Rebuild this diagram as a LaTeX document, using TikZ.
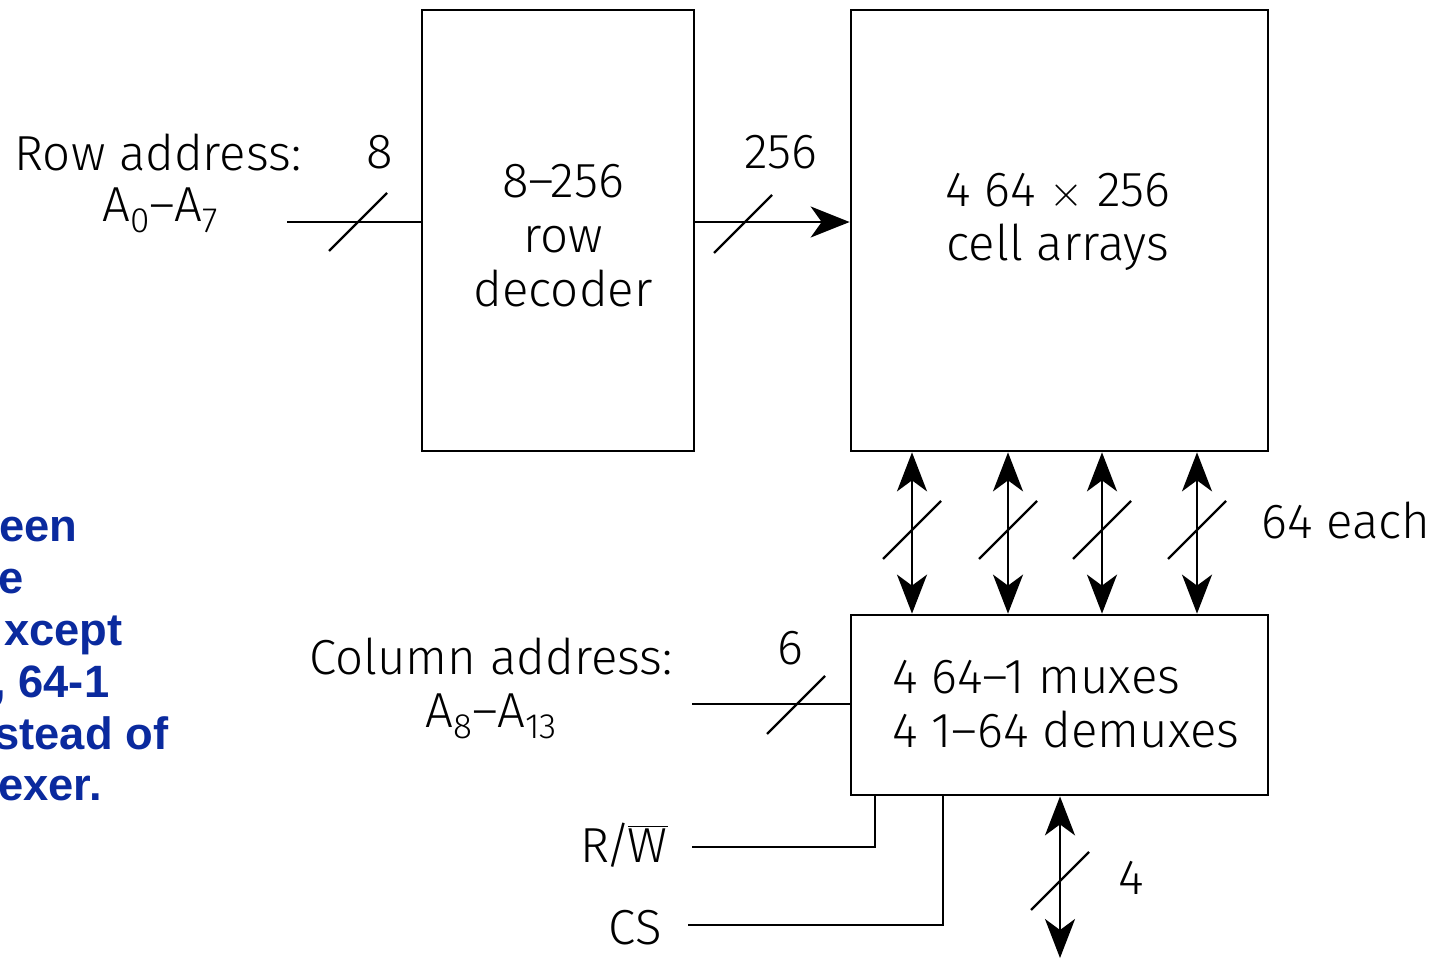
\documentclass[tikz,border=0pt]{standalone}
\usepackage{fontspec}
\setmainfont{Fira Sans}[UprightFont={* Light}]
\newfontfamily\notefont{Liberation Sans}[UprightFont={* Bold}]
\usetikzlibrary{arrows.meta,calc}
\definecolor{noteblue}{HTML}{0A2A9E}
\newcommand\busslash[1]{\draw[slashline] ($(#1)+(-29,29)$) -- ($(#1)+(29,-29)$);}
\newcommand\sbs[1]{\raisebox{-0.42ex}{\fontsize{20pt}{20pt}\selectfont #1}}
\newcommand\noteind[1]{\hspace*{#1}}
\begin{document}
\begin{tikzpicture}[x=0.02cm,y=-0.02cm,
  box/.style={draw, line width=1.6pt, inner sep=0pt},
  wire/.style={line width=1.4pt},
  slashline/.style={line width=1.3pt},
  tip/.style={-{Stealth[length=0.78cm,width=0.62cm,inset=0.22cm]}},
  dtip/.style={{Stealth[length=0.78cm,width=0.6cm,inset=0.22cm]}-{Stealth[length=0.78cm,width=0.6cm,inset=0.22cm]}},
  lbl/.style={font=\fontsize{28pt}{31pt}\selectfont, inner sep=0pt},
]
\useasboundingbox (0,0) rectangle (1446,960);
\clip (0,0) rectangle (1446,960);

% boxes
\node[box, minimum width=5.44cm, minimum height=8.82cm] (dec) at (558,230.5) {};
\node[box, minimum width=8.34cm, minimum height=8.82cm] (cell) at (1059.5,230.5) {};
\node[box, minimum width=8.34cm, minimum height=3.6cm] (mux) at (1059.5,705) {};

% box texts
\node[lbl, align=center] (dectxt) at (563,236) {8–256\\row\\decoder};
\node[lbl, align=center] (celltxt) at (1058,222) {4 64 $\times$ 256\\cell arrays};
\node[lbl, align=left, anchor=west] (muxtxt) at (892,704) {4 64–1 muxes\\4 1–64 demuxes};

% row address
\coordinate (rowin) at (287,222);
\coordinate (rowsl) at (358,222);
\draw[wire] (rowin) -- (rowin -| dec.west);
\busslash{rowsl}
\node[lbl] (rowlbl) at (158,152) {Row address:};
\node[lbl] (rowa) at (160,210) {A\sbs{0}–A\sbs{7}};
\node[lbl] (row8) at (380,152) {8};

% decoder to cells
\coordinate (decout) at (694,222);
\coordinate (decsl) at (743,224);
\draw[wire, tip] (decout -| dec.east) -- (decout -| cell.west);
\busslash{decsl}
\node[lbl] (n256) at (781,152) {256};

% cell <-> mux
\foreach \i/\x in {1/912,2/1008,3/1102,4/1197}{
  \coordinate (b\i) at (\x,530);
  \draw[wire, dtip] (b\i |- cell.south) -- (b\i |- mux.north);
  \busslash{b\i}
}
\node[lbl, anchor=west] (each) at (1261,520) {64 each};

% column address
\coordinate (colin) at (692,704);
\coordinate (colsl) at (796,705);
\draw[wire] (colin) -- (colin -| mux.west);
\busslash{colsl}
\node[lbl] (collbl) at (491,656) {Column address:};
\node[lbl] (cola) at (491,716) {A\sbs{8}–A\sbs{13}};
\node[lbl] (col6) at (790,648) {6};

% R/W and CS
\coordinate (rw) at (692,847);
\coordinate (rwx) at (875,847);
\coordinate (cs) at (688,925);
\coordinate (csx) at (943,925);
\draw[wire] (rw) -- (rwx) -- (rwx |- mux.south);
\draw[wire] (cs) -- (csx) -- (csx |- mux.south);
\node[lbl, anchor=east] (rwlbl) at (668,845) {R\kern-2pt/\kern-2pt$\overline{\mbox{W}}$};
\node[lbl, anchor=east] (cslbl) at (662,928) {CS};

% data out
\coordinate (dout) at (1060,958);
\coordinate (dsl) at (1060,881);
\draw[wire, dtip] (dout |- mux.south) -- (dout);
\busslash{dsl}
\node[lbl] (d4) at (1131,878) {4};

% clipped note
\node[anchor=north west, align=left, inner sep=0pt, text=noteblue,
  font=\notefont\fontsize{25.8pt}{29.5pt}\selectfont] (note) at (-2,517)
  {\noteind{0.6pt}een\\e\\\noteind{3.4pt}xcept\\\noteind{-2.8pt}, 64-1\\\noteind{-2.2pt}stead of\\exer.};
\end{tikzpicture}
\end{document}
